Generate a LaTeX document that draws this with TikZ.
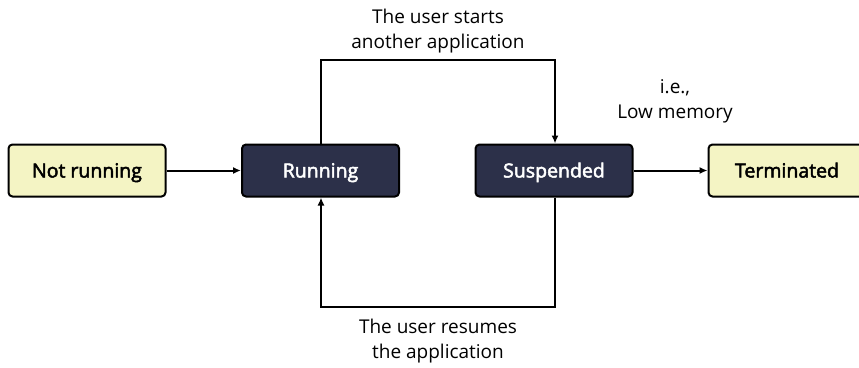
\documentclass[tikz,border=0pt]{standalone}
\usepackage{fontspec}
\setmainfont{Open Sans}
\newfontfamily\semib[FakeBold=2.5]{Open Sans}
\usetikzlibrary{arrows.meta}
\definecolor{paleyellow}{HTML}{F4F4C4}
\definecolor{navy}{HTML}{2C3049}
\tikzset{
  statebox/.style={draw=black, line width=2pt, rounded corners=4pt, minimum width=157pt, minimum height=52pt, font=\fontsize{19.5}{22}\semib, inner sep=0pt, text height=16pt, text depth=2pt},
  lightbox/.style={statebox, fill=paleyellow, text=black},
  darkbox/.style={statebox, fill=navy, text=white},
  conn/.style={line width=2pt, -{Latex[length=8pt,width=7pt]}},
  lbl/.style={align=center, font=\fontsize{19}{25}\selectfont}
}
\begin{document}
\begin{tikzpicture}[x=1pt,y=-1pt]
\useasboundingbox (0,0) rectangle (859,367);
\node[lightbox] (nr) at (87,170.5) {Not running};
\node[darkbox] (run) at (320.5,170.5) {Running};
\node[darkbox] (sus) at (554,170.5) {Suspended};
\node[lightbox] (term) at (787,170.5) {Terminated};
\coordinate (tl) at (321,60);
\coordinate (tr) at (555,60);
\coordinate (bl) at (321,307);
\coordinate (br) at (555,307);
\draw[conn] (nr) -- (run);
\draw[conn] (sus) -- (term);
\draw[conn] (run.north -| tl) -- (tl) -- (tr) -- (sus.north -| tr);
\draw[conn] (sus.south -| br) -- (br) -- (bl) -- (run.south -| bl);
\node[lbl] (top) at (438,31) {The user starts\\another application};
\node[lbl] (mem) at (675,101) {i.e.,\\Low memory};
\node[lbl] (bot) at (438,341) {The user resumes\\the application};
\end{tikzpicture}
\end{document}
